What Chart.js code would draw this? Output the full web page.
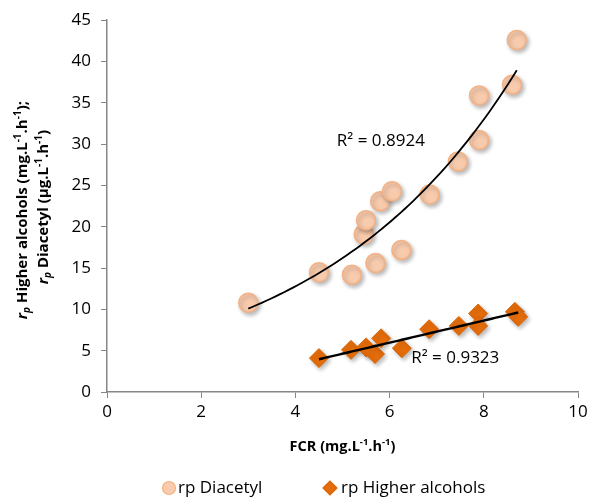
<!DOCTYPE html>
<html>
<head>
<meta charset="utf-8">
<script src="https://cdn.jsdelivr.net/npm/chart.js@4"></script>
<style>
  html, body { margin: 0; padding: 0; background: #fff; }
  #wrap { width: 592px; height: 497px; }
</style>
</head>
<body>
<div id="wrap"><canvas id="c" width="592" height="497"></canvas></div>
<script>
// ---- data ----
const diacetylFCR = [3.0, 4.5, 5.2, 5.45, 5.5, 5.7, 5.8, 6.05, 6.25, 6.85, 7.45, 7.9, 7.9, 8.6, 8.7];
const diacetylRate = [10.8, 14.5, 14.2, 19.1, 20.8, 15.6, 23.1, 24.3, 17.2, 23.9, 27.9, 30.5, 35.9, 37.2, 42.6];
const alcoholsFCR = [4.5, 5.18, 5.5, 5.69, 5.82, 6.26, 6.84, 7.47, 7.88, 7.88, 8.66, 8.73];
const alcoholsRate = [4.1, 5.1, 5.4, 4.6, 6.5, 5.3, 7.6, 8.0, 9.5, 8.0, 9.7, 9.1];
const xTicks = [0, 2, 4, 6, 8, 10];
const yTicks = [0, 5, 10, 15, 20, 25, 30, 35, 40, 45];
const seriesNames = ['rp Diacetyl', 'rp Higher alcohols'];
const r2Labels = ['R\u00B2 = 0.8924', 'R\u00B2 = 0.9323'];

const FONT = '"Open Sans", Lato, sans-serif';

function pts(xs, ys) { return xs.map((x, i) => ({x: x, y: ys[i]})); }

// least squares fits (trendlines computed from the data)
function linFit(xs, ys) {
  const n = xs.length;
  const mx = xs.reduce((a, b) => a + b, 0) / n;
  const my = ys.reduce((a, b) => a + b, 0) / n;
  let sxy = 0, sxx = 0;
  for (let i = 0; i < n; i++) { sxy += (xs[i] - mx) * (ys[i] - my); sxx += (xs[i] - mx) ** 2; }
  const b = sxy / sxx;
  return {a: my - b * mx, b: b};
}
const expF = linFit(diacetylFCR, diacetylRate.map(Math.log));
const linF = linFit(alcoholsFCR, alcoholsRate);
const trends = [
  {f: x => Math.exp(expF.a + expF.b * x), xs: diacetylFCR, width: 1.8, label: r2Labels[0], lx: 4.88, ly: 30.4},
  {f: x => linF.a + linF.b * x, xs: alcoholsFCR, width: 2.4, label: r2Labels[1], lx: 6.46, ly: 4.1}
];

const shadowPlugin = {
  id: 'shadow',
  beforeDatasetsDraw(chart) {
    const ctx = chart.ctx;
    ctx.save();
    ctx.shadowColor = 'rgba(0,0,0,0.28)';
    ctx.shadowBlur = 4;
    ctx.shadowOffsetX = 2;
    ctx.shadowOffsetY = 2.5;
  },
  afterDatasetsDraw(chart) { chart.ctx.restore(); }
};

function drawRich(ctx, segs, x, y) {
  let total = 0;
  segs.forEach(s => {
    ctx.font = `${s.style || 'normal'} ${s.weight || 'bold'} ${s.size}px ${FONT}`;
    s.w = ctx.measureText(s.t).width;
    total += s.w;
  });
  let cx = x - total / 2;
  ctx.textAlign = 'left';
  ctx.textBaseline = 'alphabetic';
  segs.forEach(s => {
    ctx.font = `${s.style || 'normal'} ${s.weight || 'bold'} ${s.size}px ${FONT}`;
    ctx.fillText(s.t, cx, y + (s.dy || 0));
    cx += s.w;
  });
}

const annotPlugin = {
  id: 'annot',
  afterDatasetsDraw(chart) {
    const ctx = chart.ctx;
    const xs = chart.scales.x, ys = chart.scales.y;
    trends.forEach(t => {
      const x0 = Math.min(...t.xs), x1 = Math.max(...t.xs);
      ctx.save();
      ctx.strokeStyle = '#000';
      ctx.lineWidth = t.width;
      ctx.beginPath();
      const N = 60;
      for (let i = 0; i <= N; i++) {
        const xv = x0 + (x1 - x0) * i / N;
        const px = xs.getPixelForValue(xv), py = ys.getPixelForValue(t.f(xv));
        if (i === 0) ctx.moveTo(px, py); else ctx.lineTo(px, py);
      }
      ctx.stroke();
      ctx.restore();
      ctx.save();
      ctx.fillStyle = '#000';
      ctx.font = `17px ${FONT}`;
      ctx.textAlign = 'left';
      ctx.textBaseline = 'middle';
      ctx.fillText(t.label, xs.getPixelForValue(t.lx), ys.getPixelForValue(t.ly));
      ctx.restore();
    });
  },
  afterDraw(chart) {
    const ctx = chart.ctx;
    const area = chart.chartArea;
    ctx.save();
    ctx.fillStyle = '#000';
    drawRich(ctx, [
      {t: 'FCR (mg.L', size: 14.5},
      {t: '-1', size: 9.5, dy: -6},
      {t: '.h', size: 14.5},
      {t: '-1', size: 9.5, dy: -6},
      {t: ')', size: 14.5}
    ], (area.left + area.right) / 2, 451);
    const cy = (area.top + area.bottom) / 2;
    ctx.save();
    ctx.translate(27, cy + 4);
    ctx.rotate(-Math.PI / 2);
    drawRich(ctx, [
      {t: 'r', size: 15, style: 'italic'},
      {t: 'p', size: 10, style: 'italic', dy: 3},
      {t: ' Higher alcohols (mg.L', size: 15},
      {t: '-1', size: 10, dy: -6},
      {t: '.h', size: 15},
      {t: '-1', size: 10, dy: -6},
      {t: ');', size: 15}
    ], 0, 0);
    ctx.restore();
    ctx.save();
    ctx.translate(48, cy + 1);
    ctx.rotate(-Math.PI / 2);
    drawRich(ctx, [
      {t: 'r', size: 15, style: 'italic'},
      {t: 'p', size: 10, style: 'italic', dy: 3},
      {t: ' Diacetyl (\u00B5g.L', size: 15},
      {t: '-1', size: 10, dy: -6},
      {t: '.h', size: 15},
      {t: '-1', size: 10, dy: -6},
      {t: ')', size: 15}
    ], 0, 0);
    ctx.restore();

    const ds = chart.data.datasets;
    const items = [{cx: 169, tx: 178}, {cx: 330, tx: 341}];
    const ly = 488;
    items.forEach((it, i) => {
      const d = ds[i];
      ctx.save();
      ctx.fillStyle = d.backgroundColor;
      ctx.strokeStyle = d.borderColor;
      ctx.lineWidth = 1.2;
      ctx.beginPath();
      if (d.pointStyle === 'circle') {
        ctx.arc(it.cx, ly, 6.5, 0, Math.PI * 2);
      } else {
        const r = 7;
        ctx.moveTo(it.cx - r, ly); ctx.lineTo(it.cx, ly - r);
        ctx.lineTo(it.cx + r, ly); ctx.lineTo(it.cx, ly + r); ctx.closePath();
      }
      ctx.fill(); ctx.stroke();
      ctx.restore();
      ctx.fillStyle = '#000';
      ctx.font = `17px ${FONT}`;
      ctx.textAlign = 'left';
      ctx.textBaseline = 'middle';
      ctx.fillText(d.label, it.tx, ly);
    });
    ctx.restore();
  }
};

new Chart(document.getElementById('c'), {
  type: 'scatter',
  data: {
    datasets: [
      {
        label: seriesNames[0],
        data: pts(diacetylFCR, diacetylRate),
        pointStyle: 'circle',
        pointRadius: 9.5,
        pointHoverRadius: 9.5,
        backgroundColor: '#F8CBAD',
        borderColor: '#F4B183',
        borderWidth: 1.5
      },
      {
        label: seriesNames[1],
        data: pts(alcoholsFCR, alcoholsRate),
        pointStyle: 'rectRot',
        pointRadius: 9.5,
        pointHoverRadius: 9.5,
        backgroundColor: '#E46C0A',
        borderColor: '#D9670C',
        borderWidth: 1
      }
    ]
  },
  options: {
    responsive: false,
    animation: false,
    events: [],
    layout: { padding: { top: 20, right: 14, left: 0, bottom: 0 } },
    plugins: {
      legend: { display: false },
      tooltip: { enabled: false }
    },
    scales: {
      x: {
        type: 'linear',
        min: 0, max: 10,
        afterBuildTicks: s => { s.ticks = xTicks.map(v => ({value: v})); },
        afterFit: s => { s.height = 105; },
        grid: { drawOnChartArea: false, drawTicks: true, tickLength: 6, color: '#868686', lineWidth: 1 },
        border: { display: true, color: '#868686', width: 1.5 },
        ticks: { color: '#000', font: { family: FONT, size: 17 }, padding: 4, maxRotation: 0 }
      },
      y: {
        type: 'linear',
        min: 0, max: 45,
        afterBuildTicks: s => { s.ticks = yTicks.map(v => ({value: v})); },
        afterFit: s => { s.width = 107; },
        grid: { drawOnChartArea: false, drawTicks: true, tickLength: 6, color: '#868686', lineWidth: 1 },
        border: { display: true, color: '#868686', width: 1.5 },
        ticks: { color: '#000', font: { family: FONT, size: 17 }, padding: 10 }
      }
    }
  },
  plugins: [shadowPlugin, annotPlugin]
});
</script>
</body>
</html>
